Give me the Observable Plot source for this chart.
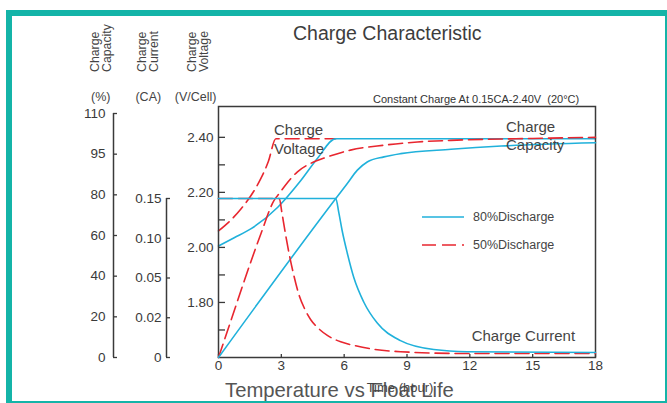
<!DOCTYPE html>
<html><head><meta charset="utf-8">
<script src="https://cdn.jsdelivr.net/npm/d3@7"></script>
<script src="https://cdn.jsdelivr.net/npm/@observablehq/plot@0.6"></script>
<style>
body{margin:0;background:#fff;}
#root{position:relative;width:667px;height:403px;overflow:hidden;font-family:"Liberation Sans",Arial,sans-serif;color:#444;}
.layer{position:absolute;left:0;top:0;}
.t{position:absolute;white-space:nowrap;line-height:1;}
.rot{position:absolute;transform-origin:0 0;transform:rotate(-90deg);white-space:nowrap;font-size:12.3px;line-height:12px;color:#444;}
#border{position:absolute;left:6px;top:10px;width:661px;height:393px;box-sizing:border-box;border-style:solid;border-color:#14b4a8;border-width:6px 2px 2px 6px;pointer-events:none;}
</style></head>
<body><div id="root"></div>
<script>
// ---- tick labels / categories ----
const hourTicks = [0, 3, 6, 9, 12, 15, 18];
const voltTicks = [1.8, 2.0, 2.2, 2.4];
const voltMinorTicks = [1.7, 1.8, 1.9, 2.0, 2.1, 2.2, 2.3, 2.4];
const capTicks = [0, 20, 40, 60, 80, 95, 110];
const curTicks = [0, 0.02, 0.05, 0.10, 0.15];
const curTickLabels = ["0", "0.02", "0.05", "0.10", "0.15"];

// ---- series: [hour, value] ----
// charge voltage (V/Cell)
const voltage80 = [[0,2.005],[0.75,2.035],[1.56,2.068],[2.83,2.146],[3.93,2.243],[4.73,2.324],[5.6,2.395],[18,2.395]];
const voltage50 = [[0,2.06],[0.6,2.10],[1.05,2.138],[1.52,2.185],[2.0,2.247],[2.38,2.312],[2.74,2.395],[5.6,2.395]];
// charge capacity (%)
const capacity80 = [[0,0],[5.6,78.2],[6.15,84.2],[6.63,89.1],[7.1,92.1],[7.9,94],[8.7,95.2],[11.1,96.8],[13.5,98],[18,99.2]];
const capacity50 = [[0,0],[0.6,18.3],[1.24,38],[2.03,61],[2.66,77.4],[2.9,80.5],[3.13,82.9],[3.77,88.5],[4.4,91.6],[5.2,94],[6.3,96.5],[7.9,98.3],[9.5,99.5],[11.1,100.1],[15,100.8],[18,101.2]];
// charge current (CA)
const current80 = [[0,0.15],[5.6,0.15],[5.74,0.1328],[5.9,0.1101],[6.15,0.0812],[6.46,0.0506],[6.94,0.0317],[7.58,0.0173],[8.69,0.0085],[10.28,0.004],[11.87,0.0029],[18,0.0025]];
const current50 = [[0,0.15],[2.905,0.15],[3.024,0.1328],[3.167,0.1101],[3.357,0.0825],[3.595,0.0535],[3.833,0.0378],[4.119,0.0265],[4.405,0.019],[4.786,0.0145],[5.214,0.011],[5.833,0.0079],[6.548,0.0059],[7.262,0.0044],[8.69,0.0029],[11.87,0.002],[18,0.002]];

const BLUE = "#20b1db", RED = "#e8262f", AX = "#3a3a3a";
const solid = {x: d => d[0], y: d => d[1], stroke: BLUE, strokeWidth: 1.6, curve: "monotone-x"};
const dashed = {x: d => d[0], y: d => d[1], stroke: RED, strokeWidth: 1.6, strokeDasharray: "14,6", curve: "monotone-x"};

const W = 667, H = 403, MB = 46;
const common = {
  width: W, height: H, marginLeft: 218, marginRight: 72, marginBottom: MB,
  x: {domain: [hourTicks[0], hourTicks[hourTicks.length - 1]], axis: null},
  style: {background: "transparent", fontFamily: "Liberation Sans, Arial, sans-serif", fontSize: "13.5px", color: AX, overflow: "visible"}
};
// evenly spaced (piecewise) range for a multi-stop axis
const evenRange = (top, n) => d3.quantize(d3.interpolateNumber(H - MB, top), n);

const root = document.getElementById("root");
function add(node) { node.classList.add("layer"); root.appendChild(node); }

// voltage layer (frame, x axis, voltage axis)
add(Plot.plot({
  ...common, marginTop: 106,
  y: {domain: [1.6, 2.512], axis: null},
  marks: [
    Plot.line(voltage50, dashed),
    Plot.line(voltage80, solid),
    Plot.frame({stroke: AX, strokeWidth: 1.5}),
    Plot.axisY(voltMinorTicks, {tickSize: 7, dx: 7, text: null, label: null, stroke: AX, strokeWidth: 1.3}),
    Plot.axisY(voltTicks, {tickSize: 0, tickPadding: 5, tickFormat: d => d.toFixed(2), label: null, fill: AX}),
    Plot.axisX(hourTicks, {tickSize: 3, dy: -3, text: null, label: null, stroke: AX, strokeWidth: 1.3}),
    Plot.axisX(hourTicks, {tickSize: 0, tickPadding: 3, label: null, fill: AX})
  ]
}));

// capacity layer
add(Plot.plot({
  ...common, marginTop: 113,
  y: {type: "linear", domain: capTicks, range: evenRange(113, capTicks.length), axis: null},
  marks: [
    Plot.line(capacity50, dashed),
    Plot.line(capacity80, solid),
    Plot.ruleX([hourTicks[0]], {y1: capTicks[0], y2: capTicks[capTicks.length - 1], dx: -105, stroke: AX, strokeWidth: 1.5}),
    Plot.axisY(capTicks, {tickSize: 4, dx: -101, text: null, label: null, stroke: AX, strokeWidth: 1.3}),
    Plot.axisY(capTicks, {tickSize: 0, tickPadding: 8, dx: -105, label: null, tickFormat: d => String(d), fill: AX})
  ]
}));

// current layer
add(Plot.plot({
  ...common, marginTop: 198,
  y: {type: "linear", domain: curTicks, range: evenRange(198, curTicks.length), axis: null},
  marks: [
    Plot.line(current50, dashed),
    Plot.line(current80, solid),
    Plot.ruleX([hourTicks[0]], {y1: curTicks[0], y2: curTicks[curTicks.length - 1], dx: -52, stroke: AX, strokeWidth: 1.5}),
    Plot.axisY(curTicks, {tickSize: 4, dx: -48, text: null, label: null, stroke: AX, strokeWidth: 1.3}),
    Plot.axisY(curTicks, {tickSize: 0, tickPadding: 5, dx: -52, label: null, tickFormat: d => curTickLabels[curTicks.indexOf(d)], fill: AX})
  ]
}));

// ---- text overlays ----
function txt(s, css) { const d = document.createElement("div"); d.className = "t"; d.textContent = s; d.style.cssText = css; root.appendChild(d); return d; }
function rot(lines, left, bottom) { const d = document.createElement("div"); d.className = "rot"; d.innerHTML = lines.join("<br>"); d.style.left = left + "px"; d.style.top = bottom + "px"; root.appendChild(d); }

txt("Charge Characteristic", "left:293px;top:24px;font-size:19.5px;color:#3d3d3d;");
txt("Constant Charge At 0.15CA-2.40V\u00a0\u00a0(20\u00b0C)", "left:373px;top:93.7px;font-size:11px;color:#333;");
rot(["Charge", "Capacity"], 89, 72);
rot(["Charge", "Current"], 136, 72);
rot(["Charge", "Voltage"], 186, 72);
txt("(%)", "left:100.8px;top:91px;font-size:12.5px;transform:translateX(-50%);");
txt("(CA)", "left:148.3px;top:91px;font-size:12.5px;transform:translateX(-50%);");
txt("(V/Cell)", "left:195.7px;top:91px;font-size:12.5px;transform:translateX(-50%);");

txt("Charge", "left:274px;top:122.3px;font-size:15px;");
txt("Voltage", "left:274px;top:140.6px;font-size:15px;");
txt("Charge", "left:506px;top:118.8px;font-size:15px;");
txt("Capacity", "left:506px;top:137.3px;font-size:15px;");
txt("Charge Current", "left:471.7px;top:328px;font-size:15px;");

// legend
const legendItems = [
  {label: "80%Discharge", color: BLUE, dash: null, top: 210.7},
  {label: "50%Discharge", color: RED, dash: "14,6", top: 238.7}
];
legendItems.forEach(it => {
  const s = document.createElementNS("http://www.w3.org/2000/svg", "svg");
  s.setAttribute("width", 44); s.setAttribute("height", 6);
  s.style.cssText = `position:absolute;left:421px;top:${it.top + 3}px;`;
  const l = document.createElementNS("http://www.w3.org/2000/svg", "line");
  l.setAttribute("x1", 1); l.setAttribute("x2", 43); l.setAttribute("y1", 3); l.setAttribute("y2", 3);
  l.setAttribute("stroke", it.color); l.setAttribute("stroke-width", 1.6);
  if (it.dash) l.setAttribute("stroke-dasharray", it.dash);
  s.appendChild(l); root.appendChild(s);
  txt(it.label, `left:473px;top:${it.top}px;font-size:12.5px;`);
});

txt("Temperature vs Float Life", "left:225px;top:380.3px;font-size:20.3px;color:#555;");
txt("Time (hour)", "left:400px;top:380.5px;font-size:13px;transform:translateX(-50%);color:#444;");

const b = document.createElement("div"); b.id = "border"; root.appendChild(b);
</script>
</body></html>
